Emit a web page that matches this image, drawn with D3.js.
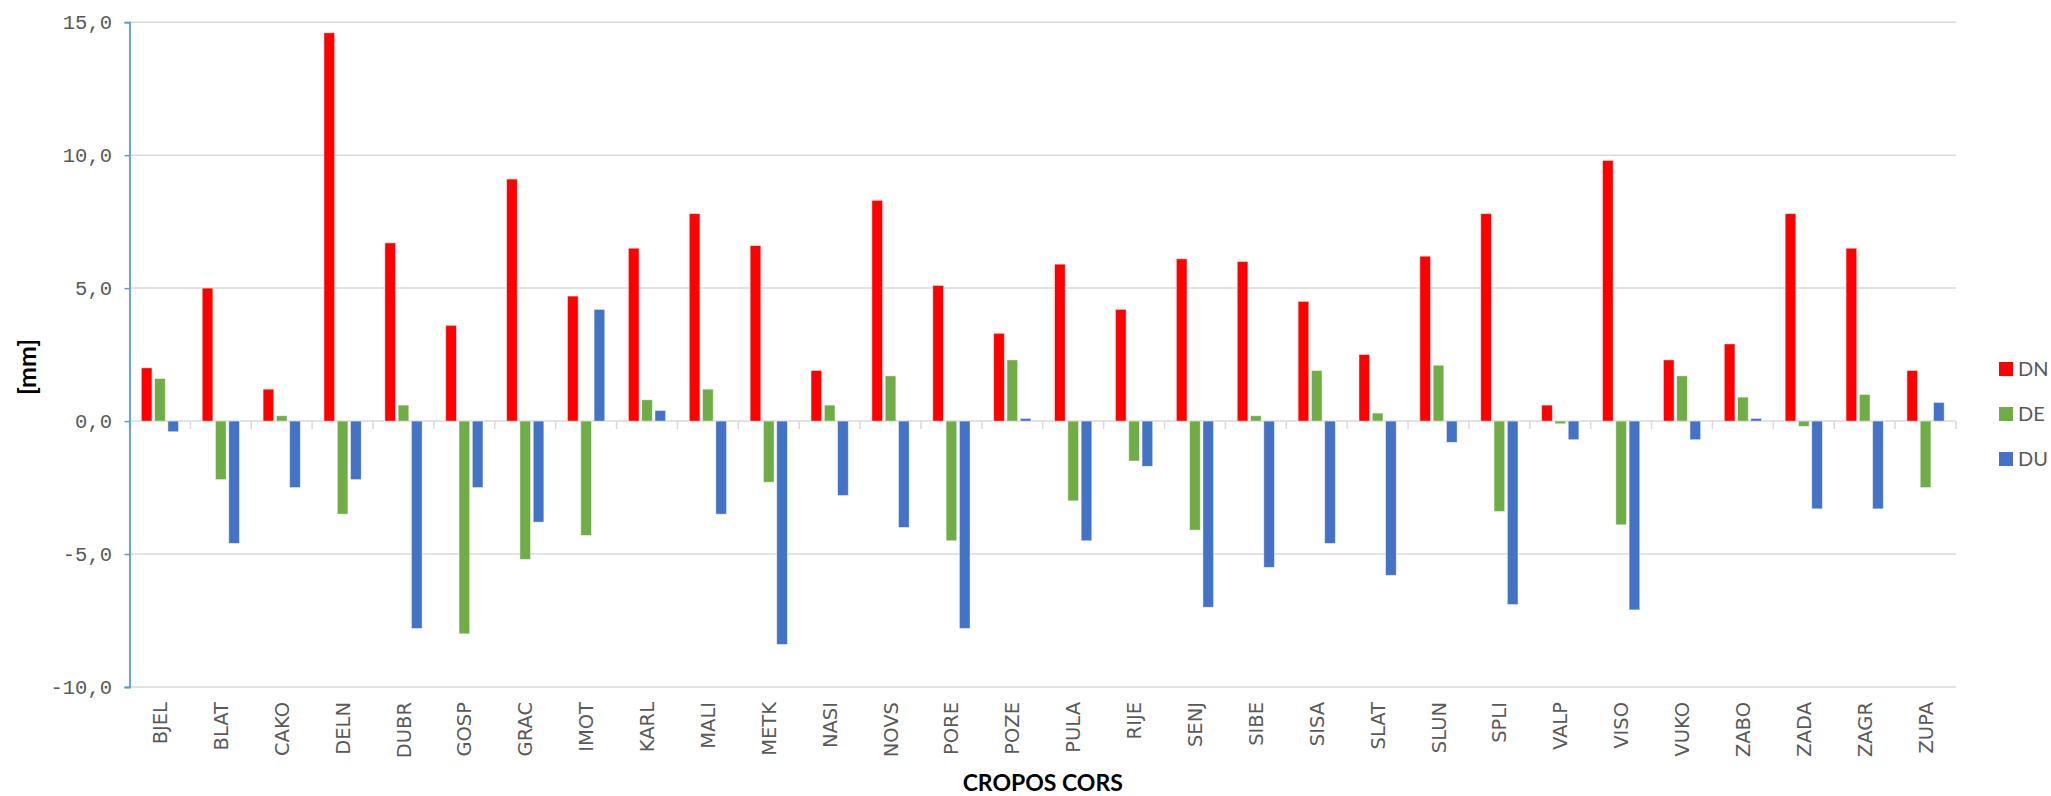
<!DOCTYPE html>
<html>
<head>
<meta charset="utf-8">
<script src="https://cdn.jsdelivr.net/npm/d3@7"></script>
<style>
  html, body { margin: 0; padding: 0; background: #ffffff; }
  svg { display: block; }
</style>
</head>
<body>
<script>
// Station displacement components (mm) for CROPOS CORS stations
const stations = ["BJEL","BLAT","CAKO","DELN","DUBR","GOSP","GRAC","IMOT","KARL","MALI",
                  "METK","NASI","NOVS","PORE","POZE","PULA","RIJE","SENJ","SIBE","SISA",
                  "SLAT","SLUN","SPLI","VALP","VISO","VUKO","ZABO","ZADA","ZAGR","ZUPA"];
const seriesNames = ["DN","DE","DU"];
const dnValues = [2.0, 5.0, 1.2, 14.6, 6.7, 3.6, 9.1, 4.7, 6.5, 7.8,
                  6.6, 1.9, 8.3, 5.1, 3.3, 5.9, 4.2, 6.1, 6.0, 4.5,
                  2.5, 6.2, 7.8, 0.6, 9.8, 2.3, 2.9, 7.8, 6.5, 1.9];
const deValues = [1.6, -2.2, 0.2, -3.5, 0.6, -8.0, -5.2, -4.3, 0.8, 1.2,
                  -2.3, 0.6, 1.7, -4.5, 2.3, -3.0, -1.5, -4.1, 0.2, 1.9,
                  0.3, 2.1, -3.4, -0.1, -3.9, 1.7, 0.9, -0.2, 1.0, -2.5];
const duValues = [-0.4, -4.6, -2.5, -2.2, -7.8, -2.5, -3.8, 4.2, 0.4, -3.5,
                  -8.4, -2.8, -4.0, -7.8, 0.1, -4.5, -1.7, -7.0, -5.5, -4.6,
                  -5.8, -0.8, -6.9, -0.7, -7.1, -0.7, 0.1, -3.3, -3.3, 0.7];
const yTicks = [-10, -5, 0, 5, 10, 15];
const seriesColors = ["#FF0000", "#70AD47", "#4472C4"];

const W = 2051, H = 796;
const plot = { left: 129.5, right: 1956, top: 22.2, bottom: 687 };

const svg = d3.select("body").append("svg")
  .attr("width", W).attr("height", H);

const y = d3.scaleLinear().domain([-10, 15]).range([plot.bottom, plot.top]);
const x0 = d3.scaleBand().domain(stations).range([plot.left, plot.right]).padding(0);
const x1 = d3.scaleBand().domain(seriesNames).range([0, x0.bandwidth()])
  .paddingInner(0.2).paddingOuter(0.89);
const color = d3.scaleOrdinal().domain(seriesNames).range(seriesColors);

const rows = stations.map((s, i) => ({
  station: s,
  values: [
    { key: "DN", value: dnValues[i] },
    { key: "DE", value: deValues[i] },
    { key: "DU", value: duValues[i] }
  ]
}));

// horizontal gridlines
svg.append("g")
  .selectAll("line").data(yTicks).join("line")
  .attr("x1", plot.left).attr("x2", plot.right)
  .attr("y1", d => y(d)).attr("y2", d => y(d))
  .attr("stroke", "#D9D9D9").attr("stroke-width", 1.5);

// category tick marks hanging below the zero line
svg.append("g")
  .selectAll("line").data(stations.map(s => x0(s)).concat([plot.right])).join("line")
  .attr("x1", d => d).attr("x2", d => d)
  .attr("y1", y(0)).attr("y2", y(0) + 8)
  .attr("stroke", "#D9D9D9").attr("stroke-width", 1.5);

// bars
const groups = svg.append("g").selectAll("g").data(rows).join("g")
  .attr("transform", d => `translate(${x0(d.station)},0)`);
groups.selectAll("rect").data(d => d.values).join("rect")
  .attr("x", d => x1(d.key))
  .attr("width", x1.bandwidth())
  .attr("y", d => y(Math.max(0, d.value)))
  .attr("height", d => Math.abs(y(d.value) - y(0)))
  .attr("fill", d => color(d.key))
  .attr("stroke", "rgba(255,255,255,0.55)")
  .attr("stroke-width", 0.8);

// y axis (blue line with outward ticks)
const yAxis = d3.axisLeft(y).tickValues(yTicks).tickSize(5)
  .tickFormat(d => d3.format(".1f")(d).replace(".", ",").replace("−", "-"));
const yg = svg.append("g").attr("transform", `translate(${plot.left},0)`).call(yAxis);
yg.select(".domain").attr("stroke", "#5B9BD5").attr("stroke-width", 1.8);
yg.selectAll(".tick line").attr("stroke", "#5B9BD5").attr("stroke-width", 1.5);
yg.selectAll(".tick text")
  .attr("x", -17.5)
  .attr("font-family", "'Liberation Mono', 'DejaVu Sans Mono', monospace")
  .attr("font-size", 20.5)
  .attr("fill", "#595959");

// station labels, rotated
svg.append("g").selectAll("text").data(stations).join("text")
  .attr("transform", d => `translate(${x0(d) + x0.bandwidth() / 2},702) rotate(-90)`)
  .attr("text-anchor", "end")
  .attr("dy", "0.36em")
  .attr("font-family", "'DejaVu Sans', sans-serif")
  .attr("font-size", 19.5)
  .attr("fill", "#595959")
  .text(d => d);

// axis titles
svg.append("text")
  .attr("x", (plot.left + plot.right) / 2).attr("y", 791)
  .attr("text-anchor", "middle")
  .attr("font-family", "Lato, 'Open Sans', sans-serif")
  .attr("font-weight", "bold").attr("font-size", 23)
  .attr("fill", "#000000")
  .text("CROPOS CORS");

svg.append("text")
  .attr("transform", "translate(36,367) rotate(-90)")
  .attr("text-anchor", "middle")
  .attr("font-family", "Lato, 'Open Sans', sans-serif")
  .attr("font-weight", "bold").attr("font-size", 25)
  .attr("fill", "#000000")
  .text("[mm]");

// legend
const legend = svg.append("g").selectAll("g").data(seriesNames).join("g")
  .attr("transform", (d, i) => `translate(1999,${362 + i * 45})`);
legend.append("rect")
  .attr("width", 14).attr("height", 14)
  .attr("fill", d => color(d));
legend.append("text")
  .attr("x", 19).attr("y", 7).attr("dy", "0.36em")
  .attr("font-family", "Lato, 'Open Sans', sans-serif")
  .attr("font-size", 20)
  .attr("fill", "#595959")
  .text(d => d);
</script>
</body>
</html>
